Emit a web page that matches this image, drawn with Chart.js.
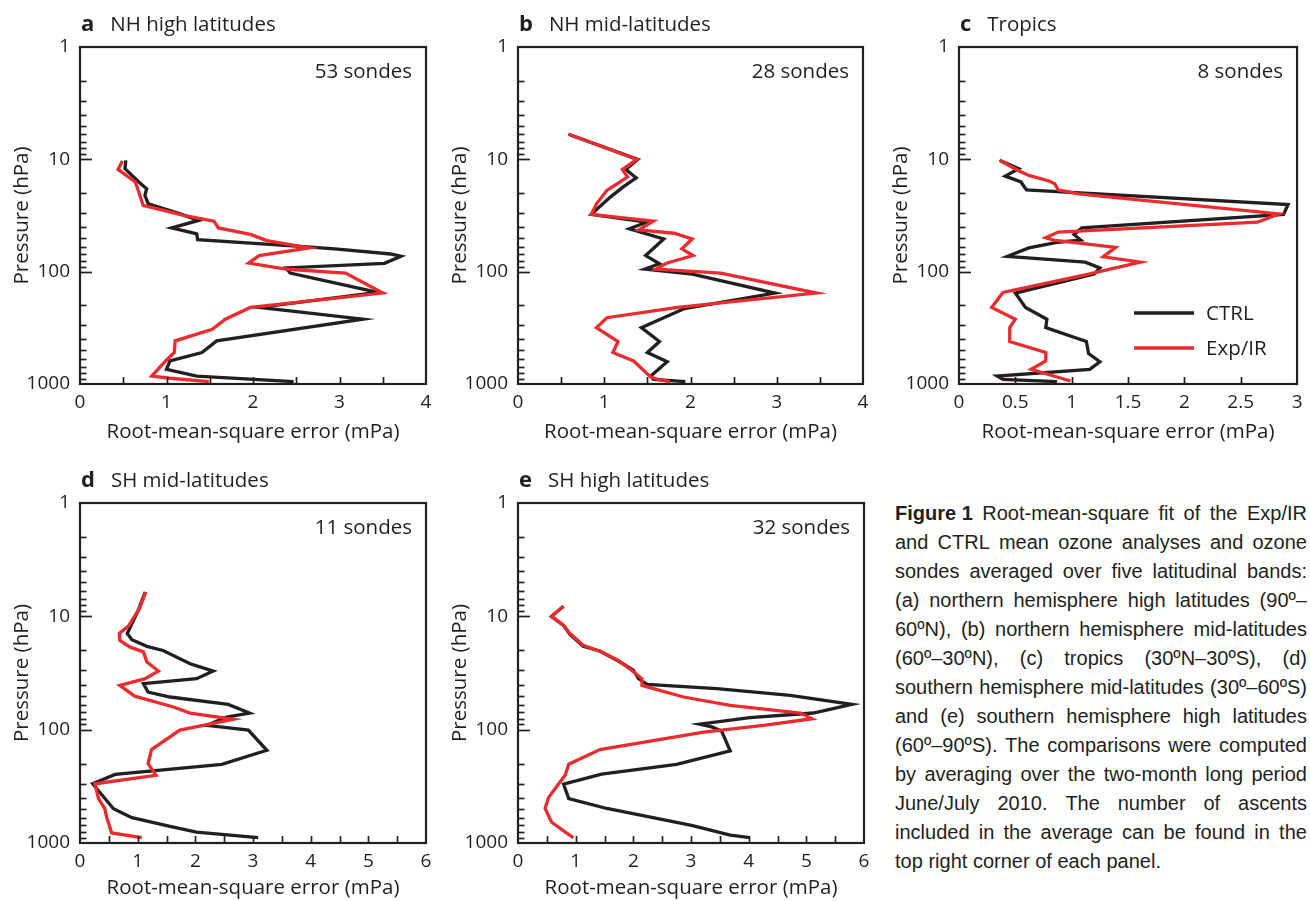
<!DOCTYPE html>
<html>
<head>
<meta charset="utf-8">
<title>Ozone analysis RMSE against sondes</title>
<script src="https://cdn.jsdelivr.net/npm/chart.js@4.4.1/dist/chart.umd.min.js"></script>
<style>
  html, body { margin: 0; padding: 0; background: #ffffff; }
  body { position: relative; width: 1310px; height: 901px; overflow: hidden; }
  canvas.panel { position: absolute; }
  #caption { position: absolute; left: 895px; top: 499px; width: 412px; color: #231f20;
    font-family: "Liberation Sans", Arial, sans-serif; font-size: 20px; line-height: 29px; }
  #caption .line { display: flex; justify-content: space-between; white-space: nowrap; height: 29px; }
  #caption .line.last { justify-content: flex-start; }
  #caption .line.last span { margin-right: 0.28em; }
</style>
</head>
<body>
<canvas id="panelA" class="panel"></canvas>
<canvas id="panelB" class="panel"></canvas>
<canvas id="panelC" class="panel"></canvas>
<canvas id="panelD" class="panel"></canvas>
<canvas id="panelE" class="panel"></canvas>
<div id="caption"></div>
<script>
// ---- Profiles: pressure levels (hPa) and RMS error (mPa) ----

// a: NH high latitudes
const nhHighCtrlP = [10.2, 12.1, 15.9, 18.3, 20.9, 24.9, 30.6, 35.0, 40.8, 46, 51.9, 59.9, 62.9, 69.6, 73.0, 84.2, 92.7, 103, 153, 208, 265, 413, 524, 624, 741, 850, 953];
const nhHighCtrlV = [0.53, 0.52, 0.68, 0.77, 0.75, 0.79, 1.16, 1.37, 1.06, 1.35, 1.36, 2.59, 2.98, 3.59, 3.71, 3.52, 2.38, 2.43, 3.44, 2.07, 3.27, 1.58, 1.41, 1.04, 1.00, 1.35, 2.47];
const nhHighExpP = [10.35, 12.3, 15.9, 19.6, 25.7, 31.6, 35.5, 40.8, 46.6, 52.9, 61.5, 71.9, 83.8, 95.2, 103, 155, 208, 265, 326, 413, 524, 624, 850, 889, 953];
const nhHighExpV = [0.49, 0.44, 0.64, 0.68, 0.73, 1.20, 1.55, 1.60, 1.97, 2.16, 2.65, 2.07, 1.95, 2.40, 3.07, 3.50, 1.97, 1.68, 1.53, 1.10, 1.09, 0.99, 0.83, 1.04, 1.49];

// b: NH mid-latitudes
const nhMidCtrlP = [5.98, 10.0, 12.3, 14.6, 17.6, 21.7, 30.9, 36.3, 41.5, 51.2, 71.9, 85, 95, 105, 155, 213, 315, 419, 524, 634, 850, 908, 953];
const nhMidCtrlV = [0.585, 1.39, 1.25, 1.37, 1.22, 1.07, 0.85, 1.49, 1.29, 1.69, 1.48, 1.64, 1.47, 2.02, 2.98, 1.93, 1.43, 1.64, 1.50, 1.73, 1.54, 1.57, 1.94];
const nhMidExpP = [5.98, 10.0, 12.3, 14.3, 16.5, 18.9, 24.9, 30.9, 35.5, 42.4, 45.5, 51.2, 62.6, 71.9, 84.2, 95, 103, 155, 208, 257, 315, 419, 524, 624, 868, 908, 953];
const nhMidExpV = [0.585, 1.38, 1.21, 1.27, 1.15, 1.03, 0.91, 0.85, 1.57, 1.40, 1.81, 2.02, 1.90, 2.03, 1.72, 1.60, 2.35, 3.46, 1.85, 1.03, 0.91, 1.16, 1.10, 1.34, 1.54, 1.62, 1.76];

// c: Tropics
const tropicsCtrlP = [10.2, 12.1, 14.1, 15.9, 17.6, 18.7, 25.3, 30.9, 40.8, 46.6, 52.3, 54.7, 61.5, 73, 82.4, 92.7, 105, 155, 208, 265, 315, 419, 535, 634, 741, 850, 908, 953];
const tropicsCtrlV = [0.36, 0.53, 0.41, 0.55, 0.58, 0.60, 2.92, 2.88, 1.09, 1.02, 1.08, 0.88, 0.62, 0.43, 1.12, 1.25, 1.20, 0.50, 0.59, 0.78, 0.77, 1.13, 1.15, 1.25, 1.16, 0.34, 0.39, 0.87];
const tropicsExpP = [10.2, 12.5, 13.9, 15.6, 16.5, 18.7, 20.3, 30.6, 36.3, 44.4, 49.9, 52.3, 60.7, 73.7, 82.4, 105, 153, 208, 265, 315, 419, 524, 624, 741, 940];
const tropicsExpV = [0.36, 0.52, 0.62, 0.80, 0.85, 0.88, 1.06, 2.84, 2.65, 0.88, 0.77, 0.84, 1.39, 1.28, 1.61, 1.15, 0.39, 0.29, 0.50, 0.45, 0.45, 0.77, 0.77, 0.64, 0.99];

// d: SH mid-latitudes
const shMidCtrlP = [6.1, 8.85, 14.2, 16.1, 18.4, 20, 26.2, 30.4, 35.5, 39.3, 46.6, 51.5, 59.8, 71.3, 77.4, 91.6, 101, 152, 202, 248, 300, 498, 598, 713, 801, 898];
const shMidCtrlV = [1.13, 1.01, 0.82, 0.90, 1.16, 1.44, 1.91, 2.31, 2.02, 1.10, 1.18, 1.56, 2.57, 2.94, 2.54, 2.20, 2.92, 3.24, 2.46, 0.61, 0.22, 0.58, 0.90, 1.56, 2.02, 3.09];
const shMidExpP = [6.1, 8.37, 12.2, 14.2, 16.3, 18.7, 20.6, 25.3, 30.4, 35.5, 40.7, 50.6, 63.1, 71.3, 81.1, 101, 150, 200, 253, 300, 406, 498, 587, 815, 898];
const shMidExpV = [1.14, 1.04, 0.84, 0.68, 0.69, 0.87, 1.10, 1.16, 1.36, 1.13, 0.69, 0.95, 1.62, 1.91, 2.66, 1.73, 1.24, 1.18, 1.32, 0.26, 0.32, 0.43, 0.46, 0.55, 1.07];

// e: SH high latitudes
const shHighCtrlP = [8.16, 10.0, 12.0, 14.4, 18.4, 20.2, 25.3, 29.9, 35.5, 39.8, 43.4, 49.9, 59.8, 71.3, 78.4, 89.5, 94.6, 103, 154, 202, 247, 303, 405, 496, 700, 853, 898];
const shHighCtrlV = [0.79, 0.58, 0.79, 0.90, 1.13, 1.42, 1.77, 2.00, 2.09, 2.24, 3.45, 4.72, 5.79, 5.12, 4.02, 3.15, 3.36, 3.53, 3.68, 2.75, 1.45, 0.79, 0.88, 1.54, 3.01, 3.68, 4.02];
const shHighExpP = [8.16, 10.0, 12.0, 13.8, 18.0, 20.6, 24.5, 29.9, 35.5, 40.7, 51.5, 61, 71.3, 80.1, 91.6, 105, 150, 202, 251, 397, 496, 653, 801, 898];
const shHighExpV = [0.79, 0.58, 0.79, 0.88, 1.13, 1.45, 1.74, 1.97, 2.15, 2.15, 2.87, 3.68, 4.90, 5.10, 4.26, 3.22, 1.42, 0.88, 0.82, 0.53, 0.47, 0.58, 0.82, 0.96];

// Axis labelling
const pressureLabels = [1, 10, 100, 1000];
const seriesNames = ['CTRL', 'Exp/IR'];
const panelLetters = ['a', 'b', 'c', 'd', 'e'];
const panelNames = ['NH high latitudes', 'NH mid-latitudes', 'Tropics', 'SH mid-latitudes', 'SH high latitudes'];
const sondeCounts = ['53 sondes', '28 sondes', '8 sondes', '11 sondes', '32 sondes'];
const xMaxima = [4, 4, 3, 6, 6];

const captionLines = [
  ['<b>Figure 1</b>', 'Root-mean-square', 'fit', 'of', 'the', 'Exp/IR'],
  'and CTRL mean ozone analyses and ozone',
  'sondes averaged over five latitudinal bands:',
  '(a) northern hemisphere high latitudes (90º–',
  '60ºN), (b) northern hemisphere mid-latitudes',
  '(60º–30ºN), (c) tropics (30ºN–30ºS), (d)',
  'southern hemisphere mid-latitudes (30º–60ºS)',
  'and (e) southern hemisphere high latitudes',
  '(60º–90ºS). The comparisons were computed',
  'by averaging over the two-month long period',
  'June/July 2010. The number of ascents',
  'included in the average can be found in the',
  'top right corner of each panel.'
];

// ---- Styling ----
const INK = '#231f20';
const RED = '#ec2b2f';
const FONT = '"Open Sans", "Noto Sans", sans-serif';

// Canvas boxes and plot-area edges in page pixels
const layouts = [
  { id: 'panelA', box: { x: 0,   y: 0,   w: 440, h: 450 }, area: { l: 80,  t: 47,  r: 426,  b: 384 }, titlePad: 6 },
  { id: 'panelB', box: { x: 438, y: 0,   w: 440, h: 450 }, area: { l: 518, t: 47,  r: 863,  b: 384 }, titlePad: 6 },
  { id: 'panelC', box: { x: 879, y: 0,   w: 431, h: 450 }, area: { l: 959, t: 47,  r: 1303, b: 384 }, titlePad: 6 },
  { id: 'panelD', box: { x: 0,   y: 455, w: 440, h: 446 }, area: { l: 80,  t: 503, r: 426,  b: 843 }, titlePad: 1 },
  { id: 'panelE', box: { x: 438, y: 455, w: 440, h: 446 }, area: { l: 518, t: 503, r: 864,  b: 843 }, titlePad: 1 }
];

const profiles = [
  [nhHighCtrlP, nhHighCtrlV, nhHighExpP, nhHighExpV],
  [nhMidCtrlP, nhMidCtrlV, nhMidExpP, nhMidExpV],
  [tropicsCtrlP, tropicsCtrlV, tropicsExpP, tropicsExpV],
  [shMidCtrlP, shMidCtrlV, shMidExpP, shMidExpV],
  [shHighCtrlP, shHighCtrlV, shHighExpP, shHighExpV]
];

const isDecade = v => Math.abs(Math.log10(v) - Math.round(Math.log10(v))) < 1e-9;
const toPoints = (p, v) => p.map((pp, i) => ({ x: v[i], y: pp }));

// Frame, inward tick marks, panel heading, sonde count and legend
const panelDecor = {
  id: 'panelDecor',
  afterDatasetsDraw(chart, args, opts) {
    const { ctx, chartArea: { left, right, top, bottom } } = chart;
    const xs = chart.scales.x, ys = chart.scales.y;
    ctx.save();
    ctx.strokeStyle = INK;
    ctx.lineCap = 'butt';
    // minor/major pressure ticks on the left edge
    ctx.lineWidth = 1.7;
    for (let dec = 1; dec < 1000; dec *= 10) {
      for (let m = 1; m <= 9; m++) {
        const v = m * dec;
        if (v === 1) continue;
        const py = Math.round(ys.getPixelForValue(v)) + 0.5;
        const len = m === 1 ? 12 : 6.5;
        ctx.beginPath(); ctx.moveTo(left, py); ctx.lineTo(left + len, py); ctx.stroke();
      }
    }
    // ticks along the bottom edge
    xs.ticks.forEach(t => {
      if (t.value <= xs.min || t.value >= xs.max) return;
      const px = Math.round(xs.getPixelForValue(t.value)) + 0.5;
      ctx.beginPath(); ctx.moveTo(px, bottom); ctx.lineTo(px, bottom - 7); ctx.stroke();
    });
    // frame
    ctx.lineWidth = 2.2;
    ctx.strokeRect(left, top, right - left, bottom - top);
    ctx.restore();
  },
  afterDraw(chart, args, opts) {
    const { ctx, chartArea: { left, right, top, bottom } } = chart;
    ctx.save();
    ctx.fillStyle = INK;
    ctx.textBaseline = 'alphabetic';
    ctx.textAlign = 'left';
    ctx.font = 'bold 22px ' + FONT;
    ctx.fillText(opts.letter, left + 1, top - 16);
    const lw = ctx.measureText(opts.letter).width;
    ctx.font = '20.5px ' + FONT;
    ctx.fillText(opts.name, left + 1 + lw + 16, top - 16);
    ctx.textAlign = 'right';
    ctx.fillText(opts.sondes, right - 14, top + 31);
    if (opts.legend) {
      const order = [0, 1];
      const ys = [bottom - 71, bottom - 36];
      order.forEach((di, k) => {
        const ds = chart.data.datasets[di];
        ctx.strokeStyle = ds.borderColor;
        ctx.lineWidth = 3.3;
        ctx.beginPath(); ctx.moveTo(right - 163, ys[k]); ctx.lineTo(right - 103, ys[k]); ctx.stroke();
        ctx.fillStyle = INK;
        ctx.textAlign = 'left';
        ctx.textBaseline = 'middle';
        ctx.fillText(ds.label, right - 91, ys[k] + 1);
      });
    }
    ctx.restore();
  }
};

function buildPanel(i) {
  const L = layouts[i];
  const [cp, cv, ep, ev] = profiles[i];
  const canvas = document.getElementById(L.id);
  canvas.width = L.box.w; canvas.height = L.box.h;
  canvas.style.left = L.box.x + 'px'; canvas.style.top = L.box.y + 'px';
  canvas.style.width = L.box.w + 'px'; canvas.style.height = L.box.h + 'px';

  const yWidth = L.area.l - L.box.x;
  const xHeight = L.box.y + L.box.h - L.area.b;
  const halfLabels = xMaxima[i] === 3;

  new Chart(canvas, {
    type: 'scatter',
    data: {
      datasets: [
        { label: seriesNames[0], data: toPoints(cp, cv), borderColor: INK, backgroundColor: INK, order: 2 },
        { label: seriesNames[1], data: toPoints(ep, ev), borderColor: RED, backgroundColor: RED, order: 1 }
      ]
    },
    options: {
      responsive: false,
      animation: false,
      devicePixelRatio: 1,
      showLine: true,
      elements: {
        point: { radius: 0, hoverRadius: 0 },
        line: { borderWidth: 3.3, tension: 0, fill: false, borderJoinStyle: 'miter', borderCapStyle: 'butt' }
      },
      layout: { padding: { left: 0, top: L.area.t - L.box.y, right: L.box.x + L.box.w - L.area.r, bottom: 0 } },
      plugins: {
        legend: { display: false },
        tooltip: { enabled: false },
        panelDecor: { letter: panelLetters[i], name: panelNames[i], sondes: sondeCounts[i], legend: i === 2 }
      },
      scales: {
        x: {
          type: 'linear', position: 'bottom', min: 0, max: xMaxima[i],
          afterFit: s => { s.height = xHeight; },
          grid: { display: false, drawTicks: false },
          border: { display: false },
          ticks: {
            stepSize: 0.5, autoSkip: false, maxRotation: 0, padding: 7.5,
            color: INK, font: { family: FONT, size: 19 },
            callback: v => (halfLabels || Number.isInteger(v)) ? String(v) : ''
          },
          title: { display: true, text: 'Root-mean-square error (mPa)', color: INK,
                   font: { family: FONT, size: 20.5 }, padding: { top: 0, bottom: L.titlePad } }
        },
        y: {
          type: 'logarithmic', position: 'left', min: 1, max: 1000, reverse: true,
          afterFit: s => { s.width = yWidth; },
          grid: { display: false, drawTicks: false },
          border: { display: false },
          ticks: {
            autoSkip: false, padding: 10, color: INK, font: { family: FONT, size: 19 },
            callback: v => (pressureLabels.includes(Math.round(v)) && isDecade(v)) ? String(Math.round(v)) : ''
          },
          title: { display: true, text: 'Pressure (hPa)', color: INK,
                   font: { family: FONT, size: 20.5 }, padding: { top: 9.5, bottom: 0 } }
        }
      }
    },
    plugins: [panelDecor]
  });
}

for (let i = 0; i < layouts.length; i++) buildPanel(i);

// Justified caption, one flex row per printed line
const cap = document.getElementById('caption');
captionLines.forEach((line, k) => {
  const row = document.createElement('div');
  row.className = 'line' + (k === captionLines.length - 1 ? ' last' : '');
  const words = Array.isArray(line) ? line : line.split(' ');
  words.forEach(w => {
    const s = document.createElement('span');
    s.innerHTML = w;
    row.appendChild(s);
  });
  cap.appendChild(row);
});
</script>
</body>
</html>
